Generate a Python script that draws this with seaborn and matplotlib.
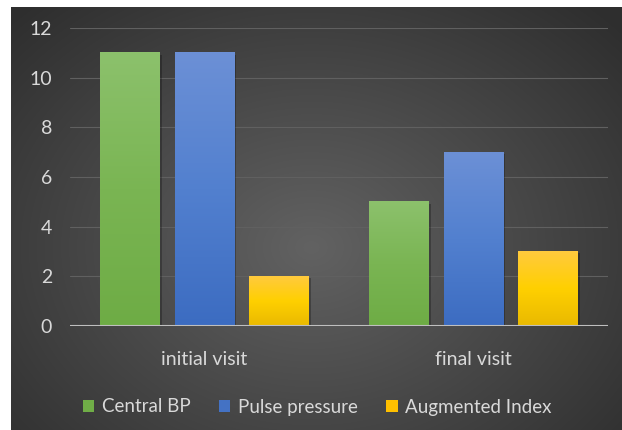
import matplotlib
matplotlib.use('Agg')
import matplotlib.pyplot as plt
import matplotlib.patheffects as pe
import numpy as np
import pandas as pd
import seaborn as sns
from matplotlib.colors import LinearSegmentedColormap
from matplotlib.patches import Patch

# data
visits = ['initial visit', 'final visit']
series = ['Central BP', 'Pulse pressure', 'Augmented Index']
central_bp = [11, 5]
pulse_pressure = [11, 7]
augmented_index = [2, 3]

solid = {'Central BP': '#70ad47', 'Pulse pressure': '#4472c4', 'Augmented Index': '#ffc000'}
# bottom -> middle -> top
grads = {
    'Central BP': ['#6eac45', '#7ab553', '#8cc16c'],
    'Pulse pressure': ['#3c6cc1', '#5280cf', '#6c90d6'],
    'Augmented Index': ['#e9b900', '#ffd000', '#ffca3e'],
}

df = pd.DataFrame({
    'visit': visits * 3,
    'series': np.repeat(series, len(visits)),
    'value': central_bp + pulse_pressure + augmented_index,
})

sns.set_style('white')
plt.rcParams['font.family'] = ['Lato', 'DejaVu Sans']

fig = plt.figure(figsize=(6.22, 4.30), dpi=100)
fig.patch.set_facecolor('white')

# dark radial background panel
bg = fig.add_axes([11 / 622, 0, 611 / 622, 423 / 430])
yy, xx = np.mgrid[0:423, 0:611]
r = np.sqrt(((xx - 300) / 420.0) ** 2 + ((yy - 240) / 330.0) ** 2)
r = np.clip(r, 0, 1)
c_in = np.array([0x62, 0x62, 0x62]) / 255
c_out = np.array([0x2e, 0x2e, 0x2e]) / 255
img = c_in[None, None, :] * (1 - r[..., None]) + c_out[None, None, :] * r[..., None]
bg.imshow(img, aspect='auto', interpolation='bilinear')
bg.axis('off')

ax = fig.add_axes([70 / 622, 104 / 430, 538 / 622, 298 / 430])
ax.set_zorder(1)
ax.set_facecolor('none')

sns.barplot(data=df, x='visit', y='value', hue='series', hue_order=series,
            palette=solid, width=0.83, gap=0.195, ax=ax, legend=False,
            edgecolor='none', linewidth=0)

for cont, name in zip(ax.containers, series):
    cmap = LinearSegmentedColormap.from_list(name, grads[name])
    for bar in cont:
        x0, w, h = bar.get_x(), bar.get_width(), bar.get_height()
        bar.set_path_effects([pe.SimplePatchShadow(offset=(1.2, -1.2), shadow_rgbFace='black', alpha=0.25),
                              pe.Normal()])
        bar.set_zorder(2)
        ax.imshow(np.linspace(0, 1, 256).reshape(-1, 1), extent=[x0, x0 + w, 0, h],
                  origin='lower', cmap=cmap, aspect='auto', zorder=3)

ax.set_xlim(-0.5, 1.5)
ax.set_ylim(0, 12)
ax.set_yticks(range(0, 13, 2))
ax.grid(axis='y', color='#606060', linewidth=0.8)
ax.set_axisbelow(True)
ax.axhline(0, color='#bfbfbf', linewidth=1.5, zorder=4)
for s in ax.spines.values():
    s.set_visible(False)
ax.set_xlabel('')
ax.set_ylabel('')
ax.tick_params(axis='both', length=0, labelcolor='#d9d9d9', labelsize=14)
ax.tick_params(axis='x', pad=18)
ax.tick_params(axis='y', pad=13)

handles = [Patch(facecolor=solid[s], edgecolor='none') for s in series]
fig.legend(handles, series, loc='center', bbox_to_anchor=(0.51, 1 - 407 / 430), ncol=3,
           frameon=False, fontsize=13.5, labelcolor='#d9d9d9', handlelength=0.62,
           handleheight=0.62, columnspacing=1.5, handletextpad=0.4)

fig.savefig('out.png', dpi=100, facecolor='white')
